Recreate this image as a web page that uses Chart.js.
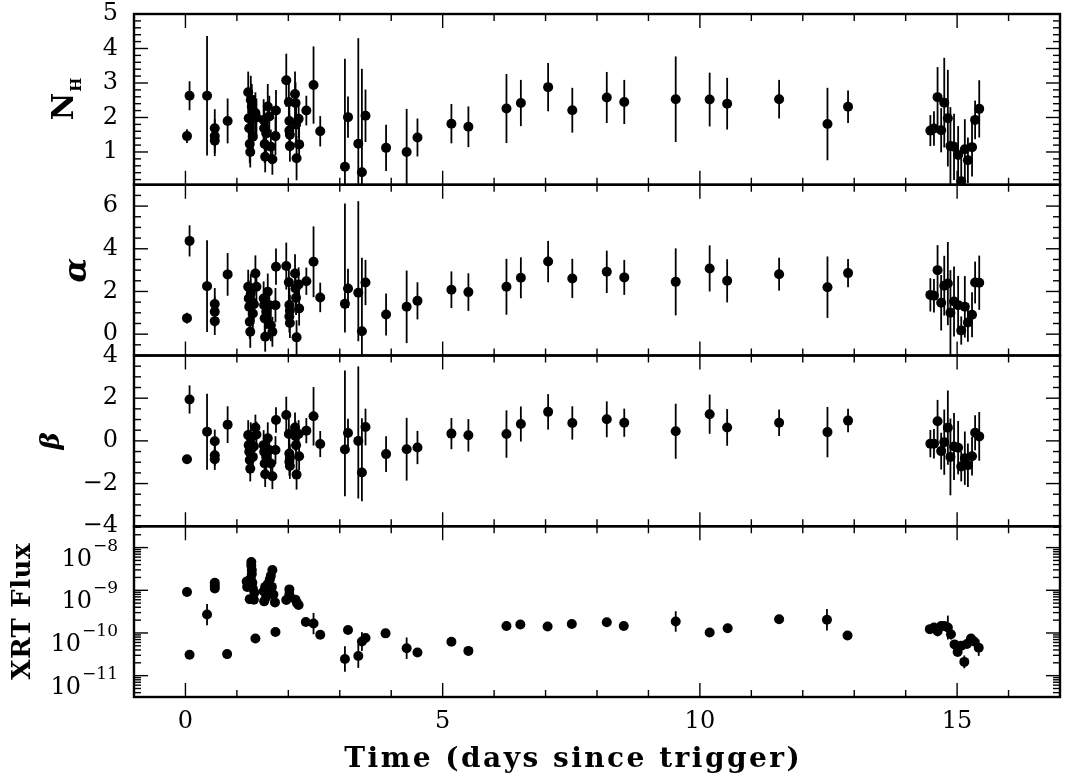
<!DOCTYPE html>
<html>
<head>
<meta charset="utf-8">
<title>XRT spectral evolution</title>
<script src="https://cdn.jsdelivr.net/npm/chart.js@4.4.1/dist/chart.umd.min.js"></script>
<style>
  html, body { margin: 0; padding: 0; background: #fff; }
  canvas { display: block; }
</style>
</head>
<body>
<canvas id="myChart" width="1065" height="778"></canvas>
<script>
// spectral fits: time (days since trigger), N_H, alpha, beta
// an error is a half width, or [down, up] when the bar is lopsided
const specTime = [0.03, 0.08, 0.42, 0.57, 0.57, 0.57, 0.82,
  1.22, 1.23, 1.24, 1.25, 1.26, 1.27, 1.29, 1.31, 1.33, 1.36, 1.38,
  1.52, 1.53, 1.54, 1.55, 1.57, 1.60, 1.63, 1.66, 1.69, 1.75, 1.76,
  1.96, 2.01, 2.02, 2.02, 2.03, 2.03, 2.13, 2.14, 2.15, 2.16, 2.20, 2.21,
  2.35, 2.49, 2.62, 3.10, 3.16, 3.36, 3.43, 3.50, 3.90, 4.30, 4.51, 5.17,
  5.50, 6.24, 6.52, 7.05, 7.52, 8.19, 8.53, 9.53, 10.19, 10.53, 11.54, 12.48, 12.88,
  14.48, 14.55, 14.62, 14.69, 14.75, 14.82, 14.87, 14.94, 15.02, 15.08, 15.15, 15.21, 15.29, 15.35, 15.43];

const nhValue = [1.46, 2.63, 2.63, 1.69, 1.46, 1.33, 1.90,
  2.73, 1.98, 1.69, 1.23, 1.00, 2.51, 2.32, 1.44, 2.05, 2.13, 2.00,
  1.93, 1.69, 1.23, 0.86, 1.54, 2.32, 2.03, 1.15, 0.79, 1.46, 2.20,
  3.08, 2.45, 1.90, 1.62, 1.50, 1.17, 2.68, 2.42, 1.80, 0.82, 1.96, 1.22,
  2.20, 2.94, 1.60, 0.57, 2.01, 1.24, 0.41, 2.05, 1.12, 1.00, 1.42, 1.82,
  1.73, 2.26, 2.42, 2.88, 2.21, 2.58, 2.45, 2.53, 2.52, 2.40, 2.53, 1.81, 2.31,
  1.62, 1.68, 2.59, 1.63, 2.43, 1.98, 1.17, 1.15, 0.91, 0.15, 1.08, 0.76, 1.14, 1.93, 2.25];
const nhError = [0.2, 0.42, 1.73, 0.55, 0.5, 0.45, 0.65,
  0.6, 0.65, 0.6, 0.55, 0.45, 0.7, 0.65, 0.55, 0.6, 0.6, 0.55,
  0.6, 0.6, 0.55, 0.45, 0.6, 0.65, 0.6, 0.5, 0.45, 0.55, 0.6,
  0.77, 0.6, 0.55, 0.5, 0.5, 0.45, 0.65, 0.6, 0.55, 0.64, 0.55, 0.5,
  0.43, 1.12, 0.44, 3.13, 0.6, 3.06, 3.0, 0.76, 0.67, 1.25, 0.55, 0.57,
  0.59, 1.0, 0.67, 0.7, 0.65, 0.74, 0.64, 1.24, 0.78, 0.75, 0.56, 1.05, 0.47,
  0.45, 0.5, 0.87, 0.64, 1.3, 1.4, 1.13, 0.96, 0.84, 0.9, 0.87, 0.66, 0.85, 0.56, 0.83];

const alphaValue = [0.75, 4.37, 2.25, 1.41, 1.05, 0.61, 2.80,
  2.22, 1.67, 1.28, 0.58, 0.11, 1.91, 1.52, 0.97, 1.40, 2.84, 2.22,
  1.67, 1.36, 0.74, -0.12, 1.05, 1.99, 1.36, 0.42, 0.11, 1.36, 3.16,
  3.19, 2.43, 1.37, 0.83, 1.10, 0.52, 2.84, 2.14, 1.70, -0.15, 2.33, 1.20,
  2.48, 3.39, 1.72, 1.42, 2.14, 1.94, 0.14, 2.42, 0.92, 1.28, 1.56, 2.08,
  1.97, 2.22, 2.64, 3.40, 2.61, 2.92, 2.66, 2.45, 3.08, 2.50, 2.81, 2.20, 2.86,
  1.84, 1.80, 3.00, 1.47, 2.27, 2.37, 1.00, 1.53, 1.36, 0.17, 1.28, 0.55, 0.91, 2.42, 2.41];
const alphaError = [0.25, 0.73, 2.15, 0.75, 0.7, 0.65, 1.0,
  0.8, 0.85, 0.8, 0.8, 0.75, 0.9, 0.85, 0.8, 0.8, 0.85, 0.8,
  0.8, 0.8, 0.75, 0.7, 0.8, 0.85, 0.8, 0.75, 0.7, 0.8, 0.85,
  1.1, 0.85, 0.8, 0.75, 0.75, 0.7, 0.9, 0.85, 0.8, 0.8, 0.8, 0.8,
  0.64, 1.66, 0.69, [1.34, 4.7], 0.92, [2.27, 4.29], 3.44, 1.06, 0.98, 1.7, 0.87, 0.86,
  0.88, 1.31, 0.96, 0.97, 0.92, 0.99, 0.82, 1.57, 1.08, 1.01, 0.77, 1.44, 0.66,
  0.78, 0.78, 1.17, 1.3, 1.4, 1.95, 2.0, 1.64, 1.37, 0.66, 1.44, 0.9, 1.05, 0.98, 1.27];

const betaValue = [-0.86, 1.94, 0.43, -0.02, -0.67, -0.86, 0.76,
  0.27, -0.20, -0.51, -0.90, -1.30, 0.12, -0.35, -0.75, -0.25, 0.63, 0.30,
  -0.20, -0.51, -1.06, -1.56, -0.75, 0.12, -0.43, -1.06, -1.66, -0.43, 0.98,
  1.21, 0.32, -0.59, -0.98, -0.80, -1.18, 0.63, 0.22, -0.20, -1.58, 0.32, -0.72,
  0.48, 1.15, -0.15, -0.40, 0.37, 0.00, -1.48, 0.65, -0.62, -0.39, -0.31, 0.34,
  0.26, 0.32, 0.79, 1.36, 0.84, 1.01, 0.85, 0.45, 1.25, 0.63, 0.85, 0.41, 0.95,
  -0.13, -0.13, 0.92, -0.48, -0.06, 0.62, -0.75, -0.26, -0.32, -1.20, -0.81, -1.14, -0.72, 0.38, 0.21];
const betaError = [0.15, 0.66, 1.78, 0.55, 0.5, 0.5, 0.86,
  0.7, 0.7, 0.65, 0.65, 0.6, 0.75, 0.7, 0.65, 0.7, 0.6, 0.6,
  0.7, 0.7, 0.65, 0.6, 0.7, 0.75, 0.7, 0.65, 0.6, 0.65, 0.6,
  0.86, 0.7, 0.7, 0.65, 0.65, 0.6, 0.7, 0.7, 0.65, 0.7, 0.65, 0.65,
  0.59, 1.37, 0.61, [2.2, 3.7], 0.67, [2.7, 3.49], [1.35, 2.54], 0.86, 0.84, 1.47, 0.78, 0.73,
  0.76, 1.11, 0.82, 0.83, 0.78, 0.84, 0.66, 1.29, 0.92, 0.86, 0.62, 1.18, 0.55,
  0.64, 0.69, 1.0, 0.86, 1.53, 1.74, 1.8, 1.57, 1.25, 0.7, 1.25, 1.02, 0.9, 0.82, 1.14];

// XRT flux light curve; error bars in dex (0 = hidden by the dot)
const fluxTime = [0.03, 0.08, 0.42, 0.57, 0.57, 0.57, 0.81,
  1.19, 1.20, 1.25, 1.27, 1.28, 1.28, 1.29, 1.29, 1.30, 1.31, 1.33, 1.34, 1.36,
  1.52, 1.53, 1.55, 1.57, 1.60, 1.62, 1.64, 1.66, 1.68, 1.69, 1.71, 1.74, 1.75,
  1.96, 2.02, 2.02, 2.14, 2.17, 2.20, 2.34, 2.49, 2.62,
  3.10, 3.16, 3.36, 3.43, 3.50, 3.89, 4.30, 4.51, 5.17, 5.50,
  6.24, 6.51, 7.04, 7.51, 8.19, 8.52, 9.53, 10.19, 10.54, 11.54, 12.47, 12.87,
  14.47, 14.55, 14.62, 14.69, 14.75, 14.82, 14.88, 14.95, 15.01, 15.08, 15.14, 15.19, 15.27, 15.33, 15.42];
const fluxValue = [9.1e-10, 3.1e-11, 2.7e-10, 1.5e-9, 1.3e-9, 1.1e-9, 3.2e-11,
  1.6e-9, 1.2e-9, 6.2e-10, 1.9e-9, 4.6e-9, 3.8e-9, 3.0e-9, 2.4e-9, 1.5e-9, 1.1e-9, 6.0e-10, 8.8e-10, 7.4e-11,
  9.5e-10, 5.5e-10, 1.2e-9, 7.0e-10, 1.4e-9, 1.0e-9, 1.8e-9, 2.2e-9, 1.2e-9, 3.0e-9, 8.0e-10, 5.2e-10, 1.05e-10,
  5.9e-10, 1.05e-9, 8.0e-10, 6.0e-10, 5.0e-10, 4.5e-10, 1.8e-10, 1.66e-10, 9.1e-11,
  2.45e-11, 1.17e-10, 2.9e-11, 6.3e-11, 7.6e-11, 9.8e-11, 4.4e-11, 3.5e-11, 6.2e-11, 3.8e-11,
  1.45e-10, 1.58e-10, 1.42e-10, 1.63e-10, 1.79e-10, 1.45e-10, 1.86e-10, 1.03e-10, 1.29e-10, 2.1e-10, 2.04e-10, 8.7e-11,
  1.23e-10, 1.34e-10, 1.1e-10, 1.45e-10, 1.45e-10, 1.34e-10, 9.3e-11, 5.4e-11, 3.6e-11, 5.0e-11, 2.1e-11, 5.5e-11, 7.4e-11, 6.3e-11, 4.5e-11];
const fluxErrDex = [0, 0, 0.25, 0, 0, 0, 0.06,
  0, 0, 0, 0, 0, 0, 0, 0, 0, 0, 0, 0, 0,
  0, 0, 0, 0, 0, 0, 0, 0, 0, 0, 0, 0, 0,
  0.1, 0, 0, 0, 0, 0, 0, 0.25, 0,
  0.3, 0, 0.28, 0.22, 0, 0, 0.25, 0, 0, 0,
  0.1, 0.08, 0.07, 0, 0.07, 0, 0.24, 0.08, 0.08, 0, 0.25, 0,
  0, 0.07, 0.12, 0, 0.1, 0.28, 0.12, 0, 0, 0, 0.15, 0, 0, 0, 0.19];

// tick labels
const timeTicks = [0, 5, 10, 15];
const nhTicks = [1, 2, 3, 4, 5];
const alphaTicks = [0, 2, 4, 6];
const betaTicks = [-4, -2, 0, 2, 4];
const fluxTicks = [1e-8, 1e-9, 1e-10, 1e-11];

const tickFont = { family: 'DejaVu Serif', size: 24 };
const minus = v => String(v).replace('-', '\u2212');

function pairs(xs, ys) {
  return xs.map((x, i) => ({ x: x, y: ys[i] }));
}

// minor/major tick steps for the inward ticks of each panel
const panelTicks = {
  yN: { step: 0.2, major: 1 },
  yA: { step: 0.5, major: 2 },
  yB: { step: 0.5, major: 2 },
  yF: { log: true }
};

function tickValues(s, cfg) {
  const out = [];
  if (cfg.log) {
    const e0 = Math.floor(Math.log10(s.min)), e1 = Math.ceil(Math.log10(s.max));
    for (let e = e0; e <= e1; e++) {
      for (let m = 1; m <= 9; m++) {
        const v = m * Math.pow(10, e);
        if (v >= s.min && v <= s.max) out.push([v, m === 1]);
      }
    }
  } else {
    for (let k = Math.ceil(s.min / cfg.step - 1e-9); k * cfg.step <= s.max + 1e-9; k++) {
      const v = k * cfg.step, r = v / cfg.major;
      out.push([v, Math.abs(r - Math.round(r)) < 1e-6]);
    }
  }
  return out;
}

function seg(ctx, x1, y1, x2, y2) {
  ctx.beginPath();
  ctx.moveTo(x1, y1);
  ctx.lineTo(x2, y2);
  ctx.stroke();
}

function spacedText(ctx, text, x, y, width) {
  ctx.letterSpacing = '0px';
  const natural = ctx.measureText(text).width;
  const sp = Math.max(0, (width - natural) / text.length);
  ctx.letterSpacing = sp + 'px';
  ctx.textAlign = 'center';
  ctx.fillText(text, x + sp / 2, y);
  ctx.letterSpacing = '0px';
}

const sketchPlugin = {
  id: 'sketch',
  // vertical error bars, cut at the edges of their panel
  beforeDatasetsDraw(chart) {
    const ctx = chart.ctx, xs = chart.scales.x;
    ctx.save();
    ctx.strokeStyle = '#000';
    ctx.lineWidth = 1.8;
    chart.data.datasets.forEach(ds => {
      const s = chart.scales[ds.yAxisID];
      ds.data.forEach((p, i) => {
        let lo, hi;
        if (ds.errDex) {
          const e = ds.errDex[i];
          if (!e) return;
          lo = p.y / Math.pow(10, e);
          hi = p.y * Math.pow(10, e);
        } else {
          const e = ds.err[i];
          const dn = Array.isArray(e) ? e[0] : e, up = Array.isArray(e) ? e[1] : e;
          lo = p.y - dn;
          hi = p.y + up;
        }
        const x = xs.getPixelForValue(p.x);
        const y1 = Math.min(s.bottom, s.getPixelForValue(lo));
        const y2 = Math.max(s.top, s.getPixelForValue(hi));
        seg(ctx, x, y1, x, y2);
      });
    });
    ctx.restore();
  },
  afterDraw(chart) {
    const ctx = chart.ctx, area = chart.chartArea, xs = chart.scales.x;
    ctx.save();
    ctx.strokeStyle = '#000';
    ctx.fillStyle = '#000';

    // frames and inward ticks on all four sides of each panel
    ['yN', 'yA', 'yB', 'yF'].forEach(id => {
      const s = chart.scales[id];
      ctx.lineWidth = 1.4;
      for (let v = Math.ceil(xs.min); v <= xs.max; v++) {
        const x = xs.getPixelForValue(v), len = v % 5 === 0 ? 14 : 7;
        seg(ctx, x, s.top, x, s.top + len);
        seg(ctx, x, s.bottom, x, s.bottom - len);
      }
      tickValues(s, panelTicks[id]).forEach(([v, major]) => {
        const y = s.getPixelForValue(v), len = major ? 14 : 7;
        seg(ctx, area.left, y, area.left + len, y);
        seg(ctx, area.right, y, area.right - len, y);
      });
      ctx.lineWidth = 2.4;
      ctx.strokeRect(area.left, s.top, area.right - area.left, s.bottom - s.top);
    });

    // flux labels as 10 with a raised exponent
    const yF = chart.scales.yF;
    fluxTicks.forEach(v => {
      const y = yF.getPixelForValue(v);
      const exp = '\u2212' + Math.round(-Math.log10(v));
      ctx.font = '17px "DejaVu Serif"';
      const ew = ctx.measureText(exp).width;
      const xr = area.left - 16;
      ctx.textBaseline = 'alphabetic';
      ctx.textAlign = 'left';
      ctx.fillText(exp, xr - ew, y + 3);
      ctx.font = '24px "DejaVu Serif"';
      ctx.textAlign = 'right';
      ctx.fillText('10', xr - ew - 1, y + 18);
    });

    // x title
    ctx.font = 'bold 28px "DejaVu Serif"';
    ctx.textBaseline = 'alphabetic';
    spacedText(ctx, 'Time (days since trigger)', area.left + 438, 767, 458);

    // rotated y titles
    const rot = (id, dx, fn) => {
      const s = chart.scales[id];
      ctx.save();
      ctx.translate(area.left - dx, (s.top + s.bottom) / 2);
      ctx.rotate(-Math.PI / 2);
      fn();
      ctx.restore();
    };
    rot('yN', 72, () => {
      ctx.font = 'bold 30px "DejaVu Serif"';
      const wN = ctx.measureText('N').width;
      ctx.font = 'bold 15px "DejaVu Serif"';
      const wH = ctx.measureText('H').width;
      const x0 = -(wN + wH) / 2;
      ctx.textAlign = 'left';
      ctx.textBaseline = 'alphabetic';
      ctx.font = 'bold 30px "DejaVu Serif"';
      ctx.fillText('N', x0, 11);
      ctx.font = 'bold 15px "DejaVu Serif"';
      ctx.fillText('H', x0 + wN + 1, 19);
    });
    rot('yA', 58, () => {
      ctx.font = 'bold italic 32px "DejaVu Serif"';
      ctx.textAlign = 'center';
      ctx.textBaseline = 'middle';
      ctx.fillText('\u03b1', 0, 2);
    });
    rot('yB', 82, () => {
      ctx.font = 'bold italic 26px "DejaVu Serif"';
      ctx.textAlign = 'center';
      ctx.textBaseline = 'middle';
      ctx.fillText('\u03b2', 0, 0);
    });
    rot('yF', 111, () => {
      ctx.font = 'bold 26px "DejaVu Serif"';
      ctx.textBaseline = 'middle';
      spacedText(ctx, 'XRT Flux', 0, 0, 137);
    });
    ctx.restore();
  }
};

const dot = { pointRadius: 5, pointHoverRadius: 5, pointBackgroundColor: '#000', pointBorderWidth: 0, showLine: false };

function panelAxis(extra) {
  return Object.assign({
    position: 'left',
    stack: 'panels',
    stackWeight: 1,
    grid: { display: false, drawTicks: false },
    border: { display: false },
    afterFit: s => { s.width = 134; s.paddingTop = 0; s.paddingBottom = 0; }
  }, extra);
}

new Chart(document.getElementById('myChart'), {
  type: 'scatter',
  data: {
    datasets: [
      Object.assign({ label: 'XRT Flux', yAxisID: 'yF', data: pairs(fluxTime, fluxValue), errDex: fluxErrDex }, dot),
      Object.assign({ label: 'beta', yAxisID: 'yB', data: pairs(specTime, betaValue), err: betaError }, dot),
      Object.assign({ label: 'alpha', yAxisID: 'yA', data: pairs(specTime, alphaValue), err: alphaError }, dot),
      Object.assign({ label: 'N_H', yAxisID: 'yN', data: pairs(specTime, nhValue), err: nhError }, dot)
    ]
  },
  options: {
    responsive: false,
    devicePixelRatio: 1,
    animation: false,
    layout: { padding: { top: 14, right: 5, left: 0, bottom: 0 } },
    plugins: { legend: { display: false }, tooltip: { enabled: false } },
    scales: {
      x: {
        type: 'linear', position: 'bottom', min: -1, max: 17,
        grid: { display: false, drawTicks: false },
        border: { display: false },
        afterBuildTicks: s => { s.ticks = timeTicks.map(v => ({ value: v })); },
        ticks: { color: '#000', font: tickFont, padding: 10, autoSkip: false, maxRotation: 0 },
        afterFit: s => { s.height = 81; s.paddingLeft = 0; s.paddingRight = 0; }
      },
      // stacked bottom to top: the last one defined sits on top
      yF: panelAxis({
        type: 'logarithmic', min: Math.pow(10, -11.5), max: Math.pow(10, -7.5),
        afterBuildTicks: s => { s.ticks = fluxTicks.map(v => ({ value: v })); },
        ticks: { display: false }
      }),
      yB: panelAxis({
        type: 'linear', min: -4, max: 4,
        afterBuildTicks: s => { s.ticks = betaTicks.map(v => ({ value: v })); },
        ticks: { color: '#000', font: tickFont, padding: 16, autoSkip: false, callback: minus }
      }),
      yA: panelAxis({
        type: 'linear', min: -1, max: 7,
        afterBuildTicks: s => { s.ticks = alphaTicks.map(v => ({ value: v })); },
        ticks: { color: '#000', font: tickFont, padding: 16, autoSkip: false, callback: minus }
      }),
      yN: panelAxis({
        type: 'linear', min: 0.05, max: 5,
        afterBuildTicks: s => { s.ticks = nhTicks.map(v => ({ value: v })); },
        ticks: { color: '#000', font: tickFont, padding: 16, autoSkip: false }
      })
    }
  },
  plugins: [sketchPlugin]
});
</script>
</body>
</html>
